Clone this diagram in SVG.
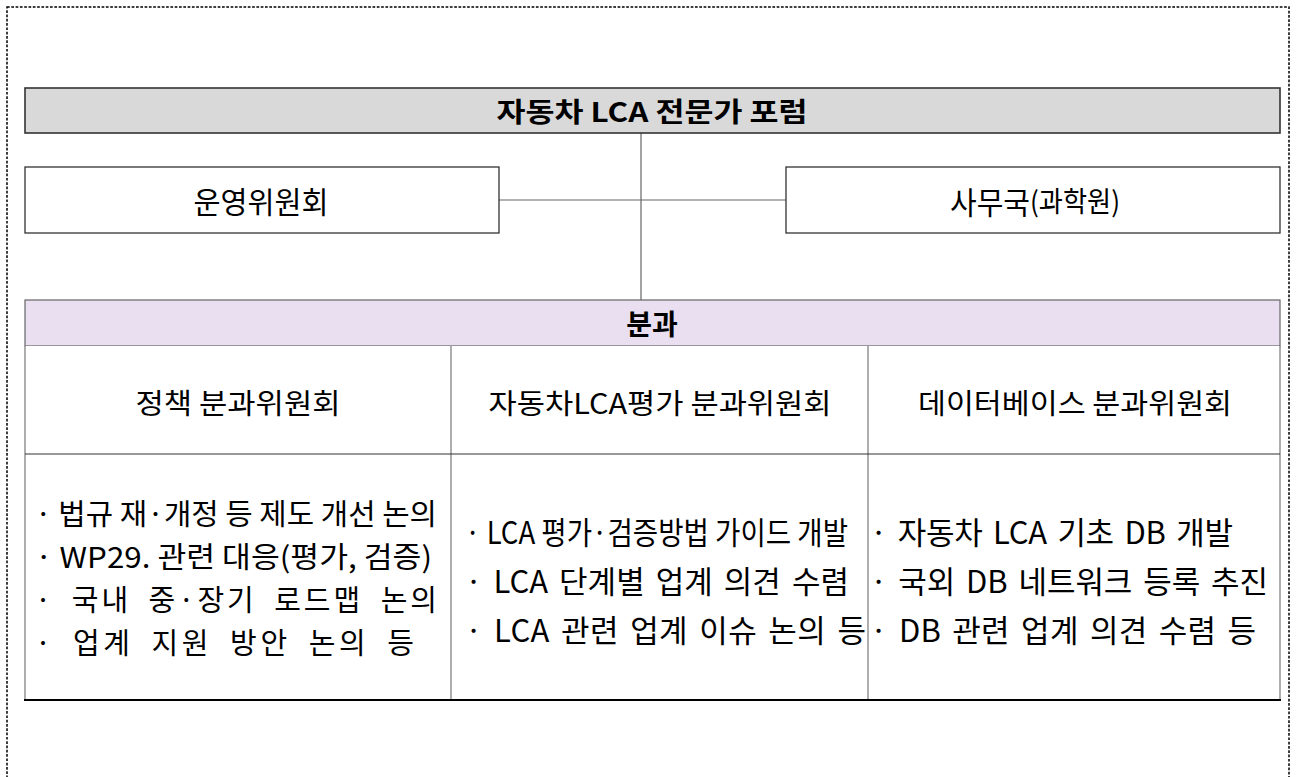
<svg xmlns="http://www.w3.org/2000/svg" width="1297" height="777" viewBox="0 0 1297 777">
<style>
text{font-family:"Noto Sans CJK KR","Noto Sans",sans-serif;fill:#000;dominant-baseline:central}
.c{text-anchor:middle}
.b{font-weight:bold}
.box{fill:#fff;stroke:#333;stroke-width:1.3}
.conn{stroke:#666;stroke-width:1.2;fill:none}
.grid{stroke:#777;stroke-width:1.2;fill:none}
.h{font-size:28px}
.t{font-size:29px}
.u{font-size:31px;word-spacing:4px}
.w{word-spacing:8px}
</style>
<rect x="7" y="7" width="1282" height="800" fill="none" stroke="#000" stroke-width="1.5" stroke-dasharray="2.7 1.6"/>
<g id="connectors">
<line class="conn" x1="641" y1="133" x2="641" y2="300"/>
<line class="conn" x1="499" y1="200" x2="786" y2="200"/>
</g>
<g id="forum">
<rect x="25" y="88" width="1255" height="45" fill="#d9d9d9" stroke="#333" stroke-width="1.6"/>
<text class="c b" font-size="27" x="652" y="110" textLength="311" lengthAdjust="spacingAndGlyphs">자동차 LCA 전문가 포럼</text>
</g>
<g id="steering">
<rect class="box" x="25" y="167" width="474" height="66"/>
<text class="c" font-size="30" x="261" y="200" textLength="135" lengthAdjust="spacingAndGlyphs">운영위원회</text>
</g>
<g id="secretariat">
<rect class="box" x="786" y="167" width="494" height="66"/>
<text class="c" font-size="31" x="1035" y="200" textLength="170" lengthAdjust="spacingAndGlyphs">사무국<tspan font-size="28">(과학원)</tspan></text>
</g>
<g id="subcommittees">
<rect x="25" y="300" width="1255" height="46" fill="#e9dff0" stroke="#666" stroke-width="1.2"/>
<text class="c b" font-size="28" x="652" y="323">분과</text>
<rect x="25" y="346" width="1255" height="354" fill="#fff" stroke="none"/>
<line class="grid" x1="25" y1="346" x2="25" y2="700"/>
<line class="grid" x1="1280" y1="346" x2="1280" y2="700"/>
<line class="grid" x1="451" y1="346" x2="451" y2="700"/>
<line class="grid" x1="868" y1="346" x2="868" y2="700"/>
<line x1="25" y1="454" x2="1280" y2="454" stroke="#333" stroke-width="1.2"/>
<line x1="24" y1="700" x2="1281" y2="700" stroke="#000" stroke-width="2"/>
</g>
<g id="policy">
<text class="c h" x="238" y="402" textLength="205" lengthAdjust="spacingAndGlyphs">정책 분과위원회</text>
<text class="t" x="35" y="512" textLength="402" lengthAdjust="spacingAndGlyphs">· 법규 재·개정 등 제도 개선 논의</text>
<text class="t" x="35" y="555" textLength="397" lengthAdjust="spacingAndGlyphs">· WP29. 관련 대응(평가, 검증)</text>
<text class="t w" x="35" y="598" textLength="402" lengthAdjust="spacing">· 국내 중·장기 로드맵 논의</text>
<text class="t w" x="35" y="641" textLength="379" lengthAdjust="spacing">· 업계 지원 방안 논의 등</text>
</g>
<g id="lca">
<text class="c h" x="660" y="402" textLength="343" lengthAdjust="spacingAndGlyphs">자동차LCA평가 분과위원회</text>
<text class="u" x="465" y="530" textLength="383" lengthAdjust="spacingAndGlyphs" style="word-spacing:0">· LCA 평가·검증방법 가이드 개발</text>
<text class="u" x="465" y="579" textLength="384" lengthAdjust="spacing">· LCA 단계별 업계 의견 수렴</text>
<text class="u" x="465" y="628" textLength="401" lengthAdjust="spacing">· LCA 관련 업계 이슈 논의 등</text>
</g>
<g id="database">
<text class="c h" x="1075" y="402" textLength="314" lengthAdjust="spacingAndGlyphs">데이터베이스 분과위원회</text>
<text class="u" x="870" y="530" textLength="363" lengthAdjust="spacing">· 자동차 LCA 기초 DB 개발</text>
<text class="u" x="870" y="579" textLength="398" lengthAdjust="spacing">· 국외 DB 네트워크 등록 추진</text>
<text class="u" x="870" y="628" textLength="386" lengthAdjust="spacing">· DB 관련 업계 의견 수렴 등</text>
</g>
</svg>
